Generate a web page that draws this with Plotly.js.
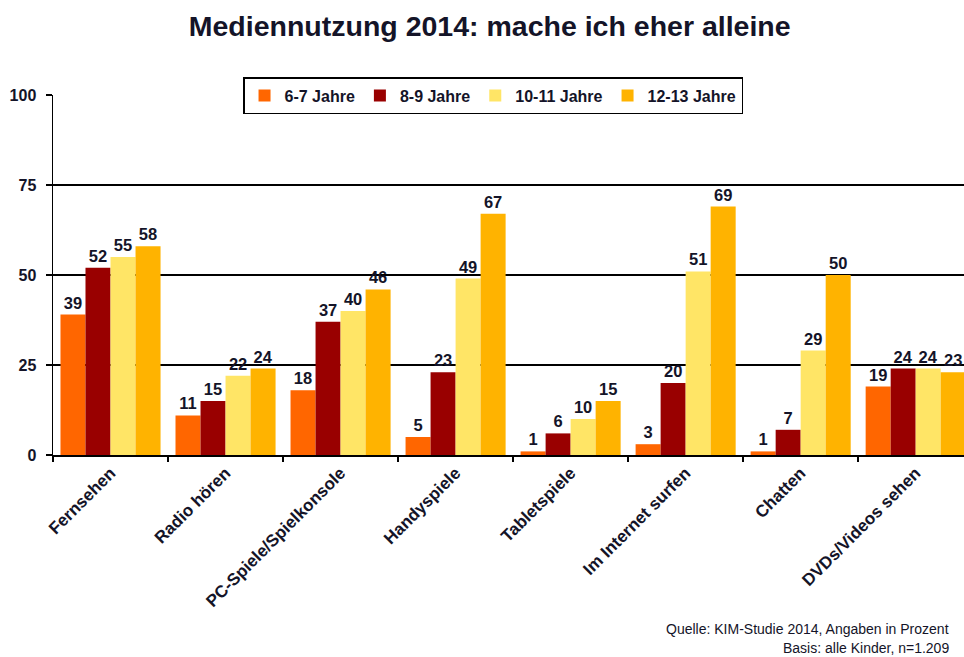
<!DOCTYPE html>
<html>
<head>
<meta charset="utf-8">
<script src="https://cdn.plot.ly/plotly-3.0.1.min.js"></script>
<style>
html,body{margin:0;padding:0;background:#fff;}
#chart{width:964px;height:657px;}
</style>
</head>
<body>
<div id="chart"></div>
<script>
const categories = ["Fernsehen", "Radio hören", "PC-Spiele/Spielkonsole", "Handyspiele", "Tabletspiele", "Im Internet surfen", "Chatten", "DVDs/Videos sehen"];
const seriesNames = ["6-7 Jahre", "8-9 Jahre", "10-11 Jahre", "12-13 Jahre"];
const age6_7 = [39, 11, 18, 5, 1, 3, 1, 19];
const age8_9 = [52, 15, 37, 23, 6, 20, 7, 24];
const age10_11 = [55, 22, 40, 49, 10, 51, 29, 24];
const age12_13 = [58, 24, 46, 67, 15, 69, 50, 23];
const yTicks = [0, 25, 50, 75, 100];
const colors = ["#FF6600", "#990000", "#FFE566", "#FFB300"];

const FONT = "Liberation Sans, Arial, sans-serif";
const TXT = "#141428";
const allSeries = [age6_7, age8_9, age10_11, age12_13];

const traces = allSeries.map((vals, i) => ({
  type: "bar",
  name: seriesNames[i],
  x: categories,
  y: vals,
  text: vals.map(String),
  textposition: "outside",
  textfont: {family: FONT, size: 16.5, color: TXT, weight: "bold"},
  cliponaxis: false,
  marker: {color: colors[i], line: {width: 0}},
  hoverinfo: "x+y+name"
}));

const layout = {
  width: 964,
  height: 657,
  margin: {l: 53, r: 0, t: 95, b: 202},
  paper_bgcolor: "#fff",
  plot_bgcolor: "#fff",
  font: {family: FONT, color: TXT},
  title: {
    text: "<b>Mediennutzung 2014: mache ich eher alleine</b>",
    font: {family: FONT, size: 28.5, color: TXT},
    x: 0.508, xanchor: "center",
    y: 0.96, yanchor: "middle"
  },
  bargap: 0.13,
  bargroupgap: 0,
  barmode: "group",
  showlegend: true,
  legend: {
    orientation: "h",
    x: 0.2086, xanchor: "left",
    y: 1.05, yanchor: "top",
    bgcolor: "#fff",
    bordercolor: "#000",
    borderwidth: 1.5,
    font: {family: FONT, size: 16, color: TXT, weight: "bold"},
    itemwidth: 30,
    traceorder: "normal"
  },
  xaxis: {
    type: "category",
    range: [-0.5, 7.42],
    showline: true,
    linecolor: "#000",
    linewidth: 1.5,
    ticks: "outside",
    tickson: "boundaries",
    ticklen: 5,
    tickwidth: 1.5,
    tickcolor: "#000",
    tickangle: -45,
    tickfont: {family: FONT, size: 17, color: TXT, weight: "bold"},
    showgrid: false,
    zeroline: false,
    automargin: false,
    fixedrange: true
  },
  yaxis: {
    range: [0, 100],
    tickvals: yTicks,
    ticktext: yTicks.map(String),
    showline: true,
    linecolor: "#000",
    linewidth: 1.5,
    ticks: "outside",
    ticklen: 6,
    tickwidth: 1.5,
    tickcolor: "#000",
    ticklabelstandoff: 6,
    tickfont: {family: FONT, size: 16, color: TXT, weight: "bold"},
    showgrid: true,
    gridcolor: "#000",
    gridwidth: 1.5,
    zeroline: false,
    automargin: false,
    fixedrange: true
  },
  annotations: [
    {
      text: "Quelle: KIM-Studie 2014, Angaben in Prozent",
      xref: "paper", yref: "paper",
      x: 0.986, y: -0.482, xanchor: "right", yanchor: "middle",
      showarrow: false,
      font: {family: FONT, size: 14, color: TXT}
    },
    {
      text: "Basis: alle Kinder, n=1.209",
      xref: "paper", yref: "paper",
      x: 0.986, y: -0.537, xanchor: "right", yanchor: "middle",
      showarrow: false,
      font: {family: FONT, size: 14, color: TXT}
    }
  ]
};

Plotly.newPlot("chart", traces, layout, {displayModeBar: false, staticPlot: true});
</script>
</body>
</html>
